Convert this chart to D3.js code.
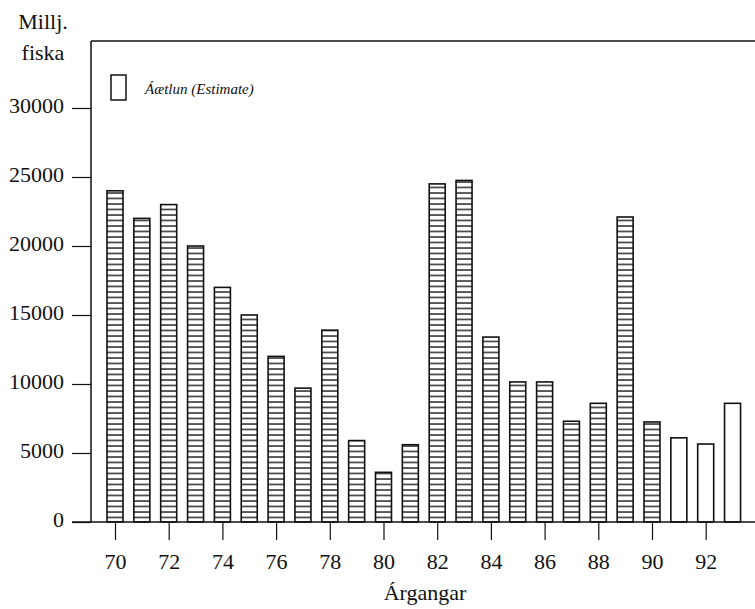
<!DOCTYPE html>
<html>
<head>
<meta charset="utf-8">
<script src="https://cdn.jsdelivr.net/npm/d3@7"></script>
<style>
  html, body { margin: 0; padding: 0; background: #fff; }
  svg { display: block; }
  text { font-family: "Liberation Serif", "DejaVu Serif", serif; fill: #111; }
</style>
</head>
<body>
<svg id="chart" width="755" height="609"></svg>
<script>
// ---- data ----
const years = [70,71,72,73,74,75,76,77,78,79,80,81,82,83,84,85,86,87,88,89,90,91,92,93];
const values = [24000,22000,23000,20000,17000,15000,12000,9700,13900,5900,3600,5600,24500,24750,13400,10150,10150,7300,8600,22100,7250,6100,5650,8600];
const estimateYears = [91,92,93];
const yTicks = [0,5000,10000,15000,20000,25000,30000];
const xTicks = [70,72,74,76,78,80,82,84,86,88,90,92];
const yTitle = ["Millj.", "fiska"];
const xTitle = "Árgangar";
const legendLabel = "Áætlun (Estimate)";

(function () {
const svg = d3.select("#chart");
const W = 755;
const mLeft = 91, mTop = 41, mBottom = 522;
const ink = "#111";

const x = d3.scaleLinear().domain([70, 93]).range([115, 115 + 23 * 26.85]);
const y = d3.scaleLinear().domain([0, 30000]).range([mBottom, mBottom - 6 * 69]);
const barW = 16;

// pattern for horizontal stripes
const defs = svg.append("defs");
const pat = defs.append("pattern")
  .attr("id", "stripes")
  .attr("patternUnits", "userSpaceOnUse")
  .attr("width", 10).attr("height", 5.5)
  .attr("y", mBottom);
pat.append("rect").attr("width", 10).attr("height", 5.5).attr("fill", "#fff");
pat.append("line").attr("x1", 0).attr("x2", 10).attr("y1", 1).attr("y2", 1)
  .attr("stroke", "#1a1a1a").attr("stroke-width", 1.4);

// bars
const data = years.map((yr, i) => ({ yr, v: values[i], est: estimateYears.includes(yr) }));
svg.append("g").selectAll("rect").data(data).join("rect")
  .attr("x", d => x(d.yr) - barW / 2)
  .attr("width", barW)
  .attr("y", d => y(d.v))
  .attr("height", d => y(0) - y(d.v))
  .attr("fill", d => d.est ? "#fff" : "url(#stripes)")
  .attr("stroke", ink)
  .attr("stroke-width", 1.6);

// frame top line
svg.append("line").attr("x1", mLeft).attr("x2", W).attr("y1", mTop).attr("y2", mTop)
  .attr("stroke", ink).attr("stroke-width", 1.5);

// y axis
const yAxis = d3.axisLeft(y).tickValues(yTicks).tickSize(19).tickPadding(8).tickFormat(d3.format("d"));
const gy = svg.append("g").attr("transform", `translate(${mLeft},0)`).call(yAxis);
gy.select(".domain").remove();
gy.selectAll(".tick line").attr("stroke", ink).attr("stroke-width", 1.2);
gy.selectAll(".tick text")
  .attr("font-size", 22)
  .attr("fill", ink)
  .attr("dy", "0.2em");
svg.append("line").attr("x1", mLeft).attr("x2", mLeft).attr("y1", mTop).attr("y2", mBottom)
  .attr("stroke", ink).attr("stroke-width", 1.5);

// x axis
const xAxis = d3.axisBottom(x).tickValues(xTicks).tickSize(18).tickPadding(13).tickFormat(d3.format("d"));
const gx = svg.append("g").attr("transform", `translate(0,${mBottom})`).call(xAxis);
gx.select(".domain").remove();
gx.selectAll(".tick line").attr("stroke", ink).attr("stroke-width", 1.2);
gx.selectAll(".tick text")
  .attr("font-size", 22)
  .attr("fill", ink);
svg.append("line").attr("x1", mLeft - 19).attr("x2", W).attr("y1", mBottom).attr("y2", mBottom)
  .attr("stroke", ink).attr("stroke-width", 1.5);

// y title
svg.append("text").attr("x", 43).attr("y", 29).attr("text-anchor", "middle")
  .attr("font-size", 22).text(yTitle[0]);
svg.append("text").attr("x", 43).attr("y", 60).attr("text-anchor", "middle")
  .attr("font-size", 22).text(yTitle[1]);

// x title
svg.append("text").attr("x", 425).attr("y", 600).attr("text-anchor", "middle")
  .attr("font-size", 22).text(xTitle);

// legend
svg.append("rect").attr("x", 111).attr("y", 75).attr("width", 15).attr("height", 25)
  .attr("fill", "#fff").attr("stroke", ink).attr("stroke-width", 1.5);
svg.append("text").attr("x", 145).attr("y", 94).attr("font-size", 15)
  .attr("font-style", "italic").text(legendLabel);
})();
</script>
</body>
</html>
